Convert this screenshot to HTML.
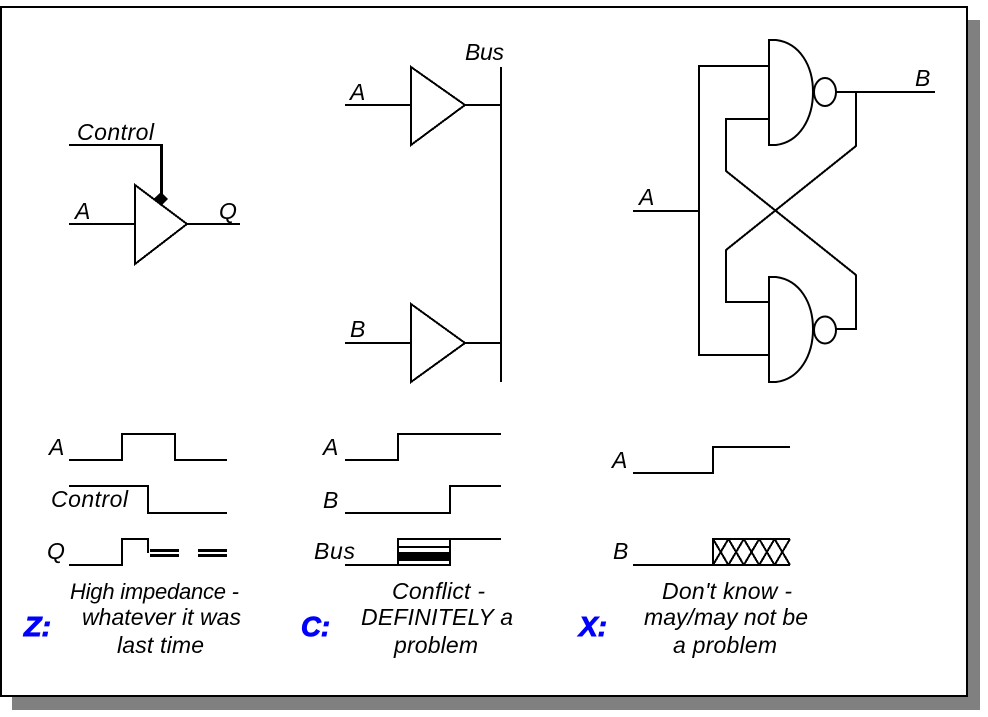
<!DOCTYPE html>
<html><head><meta charset="utf-8"><style>
html,body{margin:0;padding:0;background:#fff}
svg{display:block}
text{font-family:"Liberation Sans",Arial,sans-serif;font-style:italic;font-size:23px;fill:#000}
.k{font-weight:bold;font-size:28px;fill:#0000ff;stroke:#0000ff;stroke-width:1px}
.l{fill:none;stroke:#000;stroke-width:2;shape-rendering:crispEdges}
.c{fill:none;stroke:#000;stroke-width:2}
</style></head><body>
<svg width="988" height="717" viewBox="0 0 988 717" xmlns="http://www.w3.org/2000/svg">
<rect width="988" height="717" fill="#fff"/>
<rect x="12" y="20" width="968" height="690" fill="#808080"/>
<rect x="1" y="7" width="966" height="689" fill="#fff" stroke="#000" stroke-width="2" shape-rendering="crispEdges"/>

<!-- Gate 1 -->
<polyline class="l" points="69,145 161,145"/>
<rect x="160" y="144" width="3" height="50" fill="#000"/>
<polygon points="161,192 168,199 161,206 153.5,199" fill="#000"/>
<polygon class="l" points="135,185 187,224 135,264"/>
<polyline class="l" points="69,224 135,224"/>
<polyline class="l" points="187,224 240,224"/>
<text x="77" y="140" textLength="77">Control</text>
<text x="75" y="219">A</text>
<text x="219" y="219">Q</text>

<!-- Bus -->
<polyline class="l" points="501,67 501,382"/>
<polygon class="l" points="411,67 465,105 411,145"/>
<polyline class="l" points="345,105 411,105"/>
<polyline class="l" points="465,105 501,105"/>
<polygon class="l" points="411,304 465,343 411,382"/>
<polyline class="l" points="345,343 411,343"/>
<polyline class="l" points="465,343 501,343"/>
<text x="465" y="60" textLength="39">Bus</text>
<text x="350" y="100">A</text>
<text x="350" y="337">B</text>

<!-- Latch -->
<path class="c" d="M769,40 V145 H776 C800,142 813,118 813,92 C813,66 800,43 776,40 Z"/>
<ellipse class="c" cx="825" cy="92" rx="11" ry="14"/>
<path class="c" d="M769,277 V382 H776 C800,379 813,355 813,329 C813,303 800,280 776,277 Z"/>
<ellipse class="c" cx="825" cy="330" rx="11" ry="13.5"/>
<polyline class="l" points="836,92 935,92"/>
<polyline class="l" points="769,66 699,66 699,355 769,355"/>
<polyline class="l" points="633,211 699,211"/>
<polyline class="l" points="769,119 726,119 726,171 856,275 856,329 836,329"/>
<polyline class="l" points="856,92 856,146 726,250 726,302 769,302"/>
<text x="915" y="86">B</text>
<text x="639" y="205">A</text>

<!-- Timing Z -->
<polyline class="l" points="69,460 122,460 122,434 175,434 175,460 227,460"/>
<polyline class="l" points="69,486 148,486 148,513 227,513"/>
<polyline class="l" points="69,565 122,565 122,539 148,539 148,553"/>
<rect x="150" y="549" width="29" height="3" fill="#000"/>
<rect x="150" y="554" width="29" height="3" fill="#000"/>
<rect x="198" y="549" width="29" height="3" fill="#000"/>
<rect x="198" y="554" width="29" height="3" fill="#000"/>
<text x="49" y="455">A</text>
<text x="51" y="507" textLength="77">Control</text>
<text x="47" y="559">Q</text>

<!-- Timing C -->
<polyline class="l" points="345,460 398,460 398,434 501,434"/>
<polyline class="l" points="345,513 450,513 450,486 501,486"/>
<polyline class="l" points="345,565 450,565 450,539 501,539"/>
<polyline class="l" points="398,565 398,539 450,539"/>
<rect x="398" y="546" width="52" height="2" fill="#000"/>
<rect x="398" y="552" width="52" height="9" fill="#000"/>
<text x="323" y="455">A</text>
<text x="323" y="508">B</text>
<text x="314" y="559" textLength="41">Bus</text>

<!-- Timing X -->
<polyline class="l" points="633,473 713,473 713,447 790,447"/>
<polyline class="l" points="633,565 790,565"/>
<polyline class="l" points="713,565 713,539 790,539"/>
<path fill="none" stroke="#000" stroke-width="2" shape-rendering="crispEdges" d="M713,539L728.4,565M728.4,539L713,565M728.4,539L743.8,565M743.8,539L728.4,565M743.8,539L759.2,565M759.2,539L743.8,565M759.2,539L774.6,565M774.6,539L759.2,565M774.6,539L790,565M790,539L774.6,565"/>
<text x="612" y="468">A</text>
<text x="613" y="559">B</text>

<!-- Captions -->
<text class="k" x="24" y="636" textLength="27" lengthAdjust="spacingAndGlyphs">Z:</text>
<text x="70" y="599" textLength="169" style="font-size:22px">High impedance -</text>
<text x="82" y="625" textLength="159">whatever it was</text>
<text x="117" y="653" textLength="87">last time</text>

<text class="k" x="301" y="636" textLength="29" lengthAdjust="spacingAndGlyphs">C:</text>
<text x="392" y="599" textLength="93">Conflict -</text>
<text x="361" y="625" textLength="152">DEFINITELY a</text>
<text x="394" y="653" textLength="84">problem</text>

<text class="k" x="579" y="636" textLength="28" lengthAdjust="spacingAndGlyphs">X:</text>
<text x="662" y="599" textLength="130">Don't know -</text>
<text x="644" y="625" textLength="164">may/may not be</text>
<text x="673" y="653" textLength="104">a problem</text>
</svg>
</body></html>
